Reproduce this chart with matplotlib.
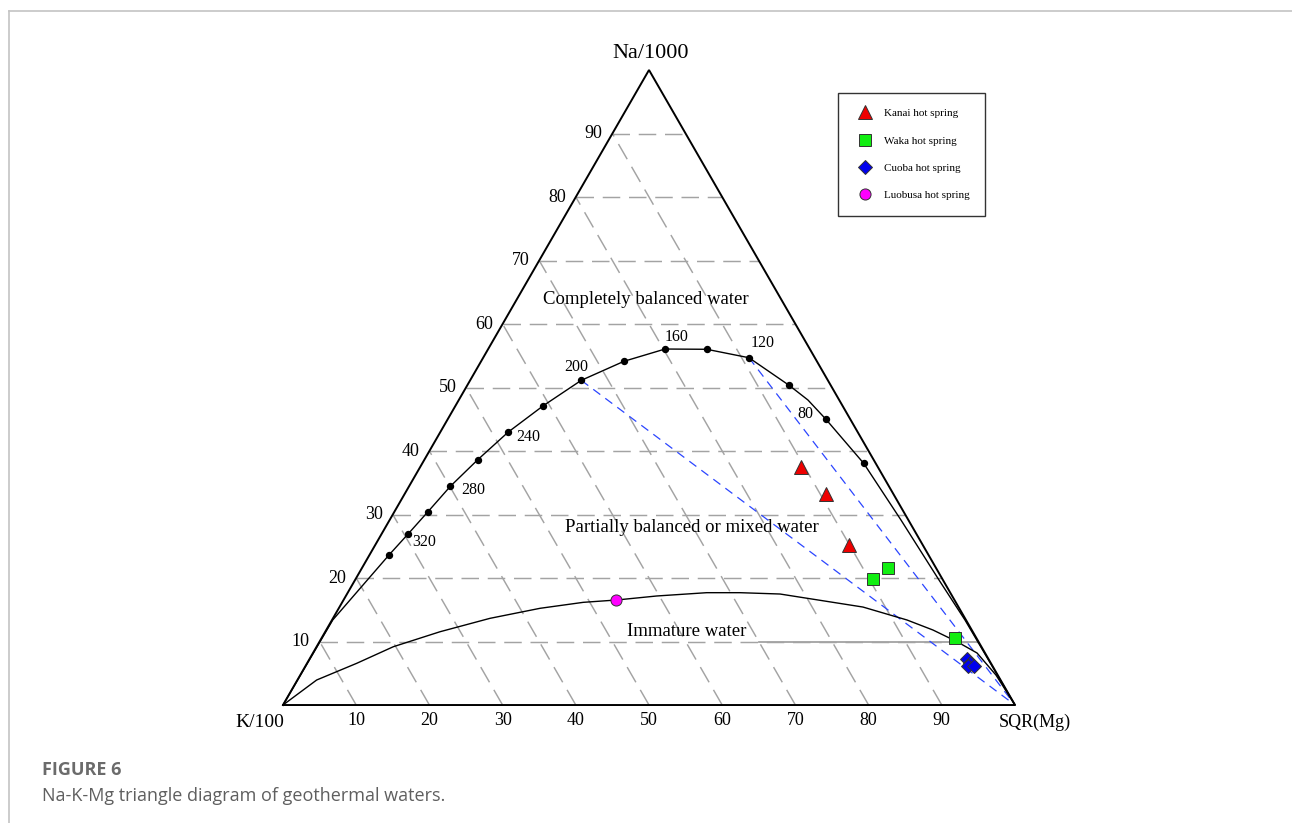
import numpy as np
import matplotlib
matplotlib.use("Agg")
import matplotlib.pyplot as plt
from matplotlib.lines import Line2D

# ---------------- data (percent of Na/1000 and SQR(Mg); K/100 is the rest) ----------------
kanai_na = [37.5, 33.2, 25.2]
kanai_mg = [52.0, 57.6, 64.7]

waka_na = [19.8, 21.6, 10.6]
waka_mg = [70.7, 71.9, 86.5]

cuoba_na = [7.2, 6.6, 6.1, 6.1]
cuoba_mg = [89.8, 90.5, 90.5, 91.3]

luobusa_na = [16.5]
luobusa_mg = [37.3]

# full-equilibrium curve: temperature marks (deg C)
eq_temps = [340, 320, 300, 280, 260, 240, 220, 200, 180, 160, 140, 120, 100, 80, 60]
eq_na = [23.67, 26.93, 30.39, 34.44, 38.63, 42.99, 47.13, 51.13, 54.13, 56.06,
         56.02, 54.69, 50.35, 44.99, 38.06]
eq_mg = [2.68, 3.62, 4.57, 5.64, 7.29, 9.28, 11.99, 15.18, 19.52, 24.16,
         29.87, 36.31, 43.96, 51.68, 60.30]
labelled_temps = [320, 280, 240, 200, 160, 120, 80]

# full-equilibrium curve trace
eq_curve_na = [0.0, 13.4, 23.67, 26.93, 30.39, 34.44, 38.63, 42.99, 47.13, 51.13, 54.13,
               56.06, 56.02, 54.69, 50.35, 48.03, 44.99, 38.06, 29.13, 19.69, 13.39, 0.0]
eq_curve_mg = [0.0, 0.1, 2.68, 3.62, 4.57, 5.64, 7.29, 9.28, 11.99, 15.18, 19.52,
               24.16, 29.87, 36.31, 43.96, 47.70, 51.68, 60.30, 69.86, 79.77, 86.47, 100.0]

# immature-water boundary
imm_na = [0.0, 3.94, 6.57, 9.18, 11.54, 13.65, 15.23, 16.17, 16.54, 17.17, 17.69,
          17.69, 17.48, 15.43, 13.39, 11.81, 9.97, 8.19, 4.72, 0.0]
imm_mg = [0.0, 2.63, 6.79, 10.48, 15.68, 21.45, 27.50, 32.93, 37.32, 42.47, 49.04,
          53.59, 59.16, 71.51, 78.55, 82.89, 87.10, 90.72, 95.04, 100.0]

# mixing lines drawn from these temperatures to the Mg apex
mixing_from = [200, 120]

grid_ticks = [10, 20, 30, 40, 50, 60, 70, 80, 90]

SERIF = "Liberation Serif"
SQ3 = np.sqrt(3) / 2


def tern(na, mg):
    na = np.asarray(na, float)
    mg = np.asarray(mg, float)
    return mg + na / 2, na * SQ3


fig = plt.figure(figsize=(12.92, 8.23), dpi=100)
ax = fig.add_axes([0, 0, 1, 1])
ax.set_xlim(-38.66, 137.84)
ax.set_ylim(-16.09, 96.15)
ax.axis("off")

# page frame
fig.add_artist(Line2D([9 / 1292, 1], [1 - 11 / 823] * 2, transform=fig.transFigure,
                      color="#c4c4c4", lw=1.2))
fig.add_artist(Line2D([9 / 1292] * 2, [0, 1 - 11 / 823], transform=fig.transFigure,
                      color="#c4c4c4", lw=1.2))

gcol = "#a3a3a3"
dash = (0, (12, 6))
# constant-Na grid
for n in grid_ticks:
    x, y = tern([n, n], [0, 100 - n])
    ax.plot(x, y, color=gcol, lw=1.05, ls=dash, zorder=1)
# constant-K grid
for k in grid_ticks:
    x, y = tern([0, 100 - k], [100 - k, 0])
    ax.plot(x, y, color=gcol, lw=1.05, ls=dash, zorder=1)
# solid part of the 10 % line
x, y = tern([10, 10], [60, 90])
ax.plot(x, y, color=gcol, lw=1.3, zorder=1.5)

# triangle frame
x, y = tern([0, 0, 100, 0], [0, 100, 0, 0])
ax.plot(x, y, color="black", lw=1.4, zorder=3, solid_joinstyle="miter")

# tick labels
for n in grid_ticks:
    x, y = tern(n, 0)
    ax.annotate(str(n), (x, y), xytext=(-7, 0), textcoords="offset points",
                ha="right", va="center", fontsize=13, family=SERIF)
    x, y = tern(0, n)
    ax.annotate(str(n), (x, y), xytext=(0, -11), textcoords="offset points",
                ha="center", va="center", fontsize=13, family=SERIF)

ax.text(50.27, 88.92, "Na/1000", ha="center", va="center", fontsize=16, family=SERIF)
ax.text(-3.14, -2.32, "K/100", ha="center", va="center", fontsize=14, family=SERIF)
ax.text(102.73, -2.32, "SQR(Mg)", ha="center", va="center", fontsize=13, family=SERIF)

# curves
x, y = tern(eq_curve_na, eq_curve_mg)
ax.plot(x, y, color="black", lw=1.0, zorder=3)
x, y = tern(imm_na, imm_mg)
ax.plot(x, y, color="black", lw=1.0, zorder=3)
x, y = tern(eq_na, eq_mg)
ax.plot(x, y, ls="none", marker="o", ms=4.3, color="black", zorder=4)

# mixing lines
for t in mixing_from:
    i = eq_temps.index(t)
    x, y = tern([eq_na[i], 0], [eq_mg[i], 100])
    ax.plot(x, y, color="#2b45ff", lw=0.9, ls=(0, (7, 5)), zorder=2)

# temperature labels
offsets = {320: (11.5, -5.8), 280: (16.6, -2.9), 240: (14.4, -3.8), 200: (-3.6, 9.4),
           160: (8.6, 8.6), 120: (10.1, 10.8), 80: (-15.1, 3.6)}
for t in labelled_temps:
    i = eq_temps.index(t)
    x, y = tern(eq_na[i], eq_mg[i])
    ax.annotate(str(t), (x, y), xytext=offsets[t], textcoords="offset points",
                ha="center", va="center", fontsize=11.5, family=SERIF)

# region labels
for txt, na, mg in [("Completely balanced water", 63.8, 17.7),
                    ("Partially balanced or mixed water", 28.0, 41.8),
                    ("Immature water", 11.5, 49.4)]:
    x, y = tern(na, mg)
    ax.text(x, y, txt, ha="center", va="center", fontsize=13.5, family=SERIF, zorder=5)

# samples
mk = dict(ls="none", mec="#333333", mew=0.7, zorder=6)
series = [
    ("Kanai hot spring", kanai_na, kanai_mg, dict(marker="^", ms=10, mfc="#ee0000")),
    ("Waka hot spring", waka_na, waka_mg, dict(marker="s", ms=8.5, mfc="#11ee11")),
    ("Cuoba hot spring", cuoba_na, cuoba_mg, dict(marker="D", ms=7.2, mfc="#0000ee")),
    ("Luobusa hot spring", luobusa_na, luobusa_mg, dict(marker="o", ms=8, mfc="#ff00ff")),
]
handles = []
for name, na, mg, st in series:
    x, y = tern(na, mg)
    h, = ax.plot(x, y, label=name, **mk, **st)
    handles.append(h)

leg = fig.legend(handles=handles, loc="upper left",
                 bbox_to_anchor=(838 / 1292, 1 - 93 / 823), borderaxespad=0,
                 prop={"family": SERIF, "size": 8}, frameon=True, fancybox=False,
                 borderpad=1.4, labelspacing=1.58, handlelength=2.0, handletextpad=0.75,
                 numpoints=1)
leg.get_frame().set_edgecolor("black")
leg.get_frame().set_linewidth(1.0)

# caption
fig.text(42 / 1292, 1 - 770 / 823, "FIGURE 6", ha="left", va="center",
         fontsize=13, family="Open Sans", fontweight="bold", color="#6b6b6b")
fig.text(42 / 1292, 1 - 796 / 823, "Na-K-Mg triangle diagram of geothermal waters.",
         ha="left", va="center", fontsize=13, family="Open Sans", color="#5f5f5f")

fig.savefig("out.png", dpi=100)
